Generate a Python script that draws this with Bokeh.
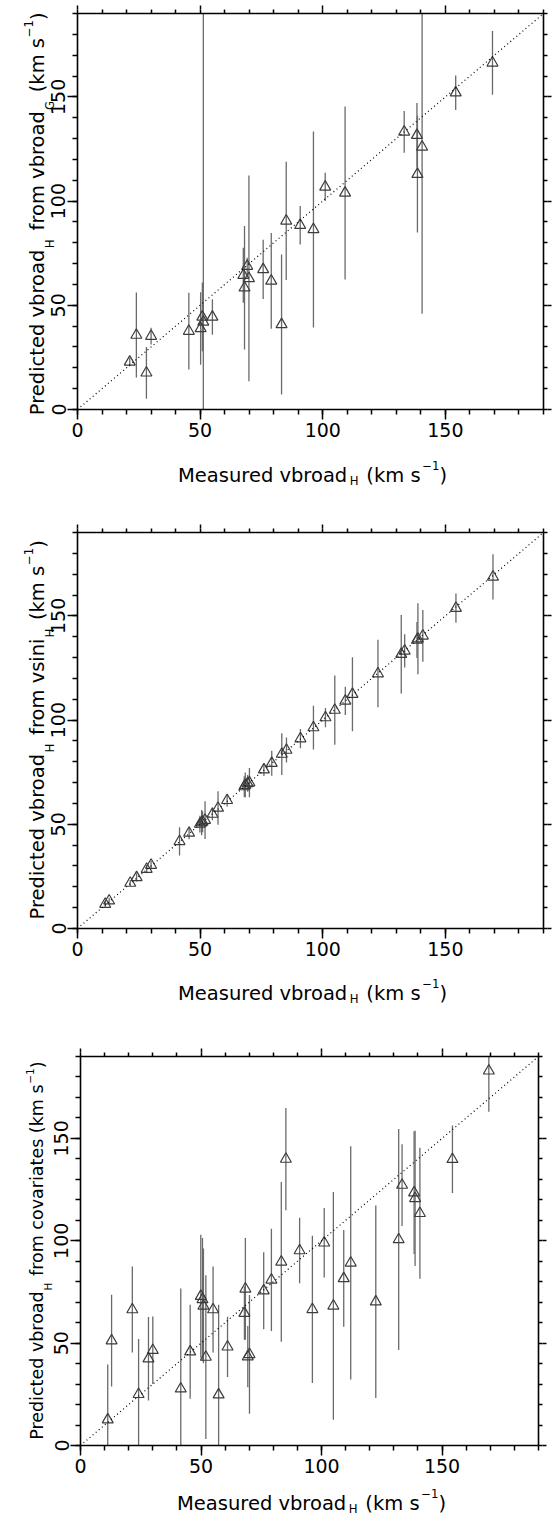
import math
from bokeh.plotting import figure
from bokeh.models import Range1d, LinearAxis, Label, FixedTicker, Slope, ColumnDataSource
from bokeh.layouts import column, row
from bokeh.embed import file_html
from bokeh.resources import INLINE

# ---------------- data ----------------
# Panel 1: predicted from vbroad_G
meas_g = [21.3, 24.0, 28.1, 30.0, 45.4, 50.2, 50.9, 51.3, 55.0, 68.1, 67.6, 69.2, 69.9, 75.7,
          79.0, 83.2, 85.1, 90.8, 96.2, 101.0, 109.1, 133.2, 138.4, 138.6, 140.5, 154.2, 169.2]
pred_g = [22.8, 35.7, 17.6, 35.2, 37.6, 38.9, 44.4, 42.0, 44.4, 58.4, 64.4, 68.8, 62.9, 67.2,
          61.7, 40.8, 90.5, 88.4, 86.4, 106.8, 103.9, 133.2, 131.6, 112.9, 126.0, 152.0, 166.3]
err_g = [2, 20.4, 12.4, 4, 18.4, 17.4, 16.5, 160, 8.5, 29.6, 13.2, 4, 49.4, 14.2,
         23, 33.6, 28.4, 9.2, 47, 6.8, 41.5, 10, 15.5, 28, 80, 8.3, 15.3]

# Panels 2 and 3 share the measured values
meas_h = [11.3, 12.9, 21.5, 24.1, 28.2, 30.0, 41.6, 45.5, 49.9, 50.6, 51.0, 52.0, 55.0, 57.3,
          61.0, 68.0, 68.4, 69.4, 70.1, 76.0, 79.2, 83.3, 85.2, 90.9, 96.2, 101.1, 104.9, 109.2,
          112.1, 122.5, 132.0, 133.4, 138.4, 138.8, 140.8, 154.3, 169.4]
# Panel 2: predicted from vsini_H
pred_v = [11.7, 13.3, 21.8, 24.5, 28.5, 30.4, 41.8, 45.8, 50.1, 50.8, 51.2, 52.0, 54.9, 57.8,
          61.5, 68.1, 68.8, 69.6, 70.0, 76.2, 79.3, 83.7, 85.6, 91.1, 96.4, 101.2, 104.8, 109.2,
          112.4, 122.3, 131.6, 133.2, 138.4, 139.0, 140.4, 153.7, 168.7]
err_v = [1.5, 1.5, 1.5, 2, 2, 2, 6.8, 3, 4, 6, 5, 9, 3, 8,
         3, 5, 6, 4, 7, 3, 6, 10, 6, 4.6, 10.5, 4.6, 16.6, 6.8,
         17.7, 16.2, 18.8, 8, 8.6, 17, 12.4, 7, 10.9]
# Panel 3: predicted from covariates
pred_c = [12.6, 51.2, 66.4, 25.0, 42.4, 46.5, 27.7, 45.8, 72.9, 71.3, 68.2, 43.2, 66.4, 24.8,
          48.2, 64.6, 76.5, 43.4, 44.5, 75.6, 80.9, 89.7, 139.9, 95.2, 66.5, 99.0, 68.2, 81.6,
          89.2, 70.2, 100.6, 127.2, 123.5, 120.7, 113.4, 139.8, 183.0]
err_c = [27, 22.4, 21, 27, 20.4, 16.5, 49, 23, 30, 30, 28, 40, 21, 44,
         14.7, 13, 24.8, 15, 29, 18.8, 25, 39, 25, 16, 36, 17, 55.6, 23.6,
         57, 47, 54, 20, 30, 33, 32, 16.5, 20]

AXIS_MIN, AXIS_MAX = 0, 190
MAJOR_TICKS = [0, 50, 100, 150]
MINOR_TICKS = list(range(0, 191, 10))

X_TITLE = [("Measured vbroad", "n"), ("H", "sub"), (" (km s", "n"), ("\u22121", "sup"), (")", "n")]
Y_TITLES = [
    [("Predicted vbroad", "n"), ("H", "sub"), (" from vbroad", "n"), ("G", "sub"),
     (" (km s", "n"), ("\u22121", "sup"), (")", "n")],
    [("Predicted vbroad", "n"), ("H", "sub"), (" from vsini", "n"), ("H", "sub"),
     (" (km s", "n"), ("\u22121", "sup"), (")", "n")],
    [("Predicted vbroad", "n"), ("H", "sub"), (" from covariates (km s", "n"),
     ("\u22121", "sup"), (")", "n")],
]

# ---------------- styling ----------------
FONT = "DejaVu Sans"
TICK_FS = 19
TITLE_FS = 19.5
ASC, DESC = 0.928, 0.236          # DejaVu Sans font box (em)
EM = {" ": 0.40, "(": 0.390, ")": 0.390, "-": 0.361, "\u2212": 0.838,
      "G": 0.776, "H": 0.752, "M": 0.863, "P": 0.603,
      "a": 0.613, "b": 0.635, "c": 0.550, "d": 0.635, "e": 0.615, "f": 0.352, "h": 0.634,
      "i": 0.278, "k": 0.579, "l": 0.278, "m": 0.974, "n": 0.634, "o": 0.612, "r": 0.411,
      "s": 0.521, "t": 0.392, "u": 0.634, "v": 0.592}
for d in "0123456789":
    EM[d] = 0.636

FIG_W = 558


def tw(s, fs, space=0.40):
    return sum((space if c == " " else EM.get(c, 0.6)) for c in s) * fs


def piece_layout(pieces, fs_main, space):
    """Return (text, kind, font size, centre offset, left offset) from the title centre."""
    items = []
    total = 0.0
    for t, k in pieces:
        fs = fs_main if k == "n" else fs_main * 0.6
        w = tw(t, fs, space)
        items.append((t, k, fs, w))
        total += w
    out = []
    pos = -total / 2.0
    for t, k, fs, w in items:
        txt = t.strip()
        lead = len(t) - len(t.lstrip(" "))
        lead_w = tw(" " * lead, fs_main, space)
        wt = tw(txt, fs, space)
        out.append((txt, k, fs, pos + lead_w + wt / 2.0, pos + lead_w))
        pos += w
    return out


def x_title(fig, cx, base):
    for txt, k, fs, c, left in piece_layout(X_TITLE, TITLE_FS, 0.40):
        off = 0.0 if k == "n" else (-0.26 * TITLE_FS if k == "sub" else 0.50 * TITLE_FS)
        fig.add_layout(Label(x=cx + left, y=base + off, x_units="screen", y_units="screen",
                             text=txt, text_align="left", text_baseline="alphabetic",
                             text_font=FONT, text_font_size=f"{fs:.1f}px", text_color="black"))


def y_title_axes(p, pieces, fs_main, space, frame_left, x_base, centre_shift_px, fh):
    """Vertical title built from label-only axes stacked on the left of the frame."""
    px2d = (AXIS_MAX - AXIS_MIN) / fh
    centre = (AXIS_MAX + AXIS_MIN) / 2.0 + centre_shift_px * px2d
    groups = {"sub": ([], {}), "n": ([], {}), "sup": ([], {})}
    for txt, k, fs, c, left in piece_layout(pieces, fs_main, space):
        v = round(centre + c * px2d, 3)
        groups[k][0].append(v)
        groups[k][1][v] = txt
    fs_small = fs_main * 0.6
    # outer edge of the labelled y axis: tick 10 + standoff 2 + label box
    edge = frame_left - (10 + 2 + (ASC + DESC) * TICK_FS)
    for kind, fs, target in (("sub", fs_small, x_base + 0.30 * fs_main),
                             ("n", fs_main, x_base),
                             ("sup", fs_small, x_base - 0.55 * fs_main)):
        standoff = int(round(edge - DESC * fs - target))
        ticks, labels = groups[kind]
        ax = LinearAxis(ticker=FixedTicker(ticks=ticks, minor_ticks=[]),
                        major_label_overrides=labels)
        ax.axis_line_color = None
        ax.major_tick_line_color = None
        ax.minor_tick_line_color = None
        ax.major_tick_in = 0
        ax.major_tick_out = 0
        ax.minor_tick_in = 0
        ax.minor_tick_out = 0
        ax.axis_label = None
        ax.major_label_orientation = "vertical"
        ax.major_label_standoff = standoff
        ax.major_label_text_font = FONT
        ax.major_label_text_font_size = f"{fs:.2f}px"
        ax.major_label_text_color = "black"
        p.add_layout(ax, "left")
        edge -= (ASC + DESC) * fs + standoff


def blank_fig(width, height):
    return figure(width=width, height=height, x_range=Range1d(0, 1), y_range=Range1d(0, 1),
                  x_axis_type=None, y_axis_type=None, output_backend="svg",
                  toolbar_location=None, min_border=0, min_border_left=0, min_border_right=0,
                  min_border_top=0, min_border_bottom=0, outline_line_color=None,
                  background_fill_color="white", border_fill_color="white")


def style_labelled(ax, standoff):
    ax.ticker = FixedTicker(ticks=MAJOR_TICKS, minor_ticks=MINOR_TICKS)
    ax.axis_line_color = "black"
    ax.axis_line_width = 1.6
    ax.major_tick_line_color = "black"
    ax.major_tick_line_width = 1.5
    ax.major_tick_in = 0
    ax.major_tick_out = 10
    ax.minor_tick_line_color = "black"
    ax.minor_tick_line_width = 1.5
    ax.minor_tick_in = 0
    ax.minor_tick_out = 5
    ax.axis_label = None
    ax.major_label_text_font = FONT
    ax.major_label_text_font_size = f"{TICK_FS}px"
    ax.major_label_text_color = "black"
    ax.major_label_standoff = standoff


def tick_only_axis(minor, out, line):
    ax = LinearAxis(ticker=FixedTicker(ticks=[], minor_ticks=minor))
    ax.axis_line_color = "black" if line else None
    ax.axis_line_width = 1.6
    ax.major_tick_in = 0
    ax.major_tick_out = out
    ax.minor_tick_line_color = "black"
    ax.minor_tick_line_width = 1.5
    ax.minor_tick_in = 0
    ax.minor_tick_out = out
    ax.major_label_standoff = 0
    ax.axis_label = None
    return ax


def make_panel(xv, yv, ev, ytitle, main_h, bl, br, bt, bb, xt_h, xt_base,
               yt_fs, yt_space, yt_xbase, yt_shift):
    p = figure(width=FIG_W, height=main_h, x_range=Range1d(AXIS_MIN, AXIS_MAX),
               y_range=Range1d(AXIS_MIN, AXIS_MAX), output_backend="svg",
               toolbar_location=None, min_border_left=bl, min_border_right=br,
               min_border_top=bt, min_border_bottom=bb, outline_line_color=None,
               background_fill_color="white", border_fill_color="white")
    p.grid.visible = False
    style_labelled(p.below[0], 3)
    style_labelled(p.left[0], 2)
    p.left[0].major_label_orientation = "vertical"
    # top and right: all ticks 4px, majors extended by a second, line-less axis
    p.add_layout(tick_only_axis(MINOR_TICKS, 4, True), "above")
    p.add_layout(tick_only_axis(MAJOR_TICKS, 4, False), "above")
    p.add_layout(tick_only_axis(MINOR_TICKS, 4, True), "right")
    p.add_layout(tick_only_axis(MAJOR_TICKS, 4, False), "right")

    lo = [y - e for y, e in zip(yv, ev)]
    hi = [y + e for y, e in zip(yv, ev)]
    src = ColumnDataSource(dict(x=xv, y=yv, lo=lo, hi=hi))
    p.add_layout(Slope(gradient=1, y_intercept=0, line_color="black", line_width=1.2,
                       line_dash="1 3"))
    p.segment(x0="x", y0="lo", x1="x", y1="hi", source=src, line_color="#6a6a6a",
              line_width=1.3)
    p.scatter(x="x", y="y", source=src, marker="triangle", size=11, fill_color=None,
              line_color="#3c3c3c", line_width=1.2)

    fw = FIG_W - bl - br
    fh = main_h - bt - bb
    y_title_axes(p, ytitle, yt_fs, yt_space, bl, yt_xbase, yt_shift, fh)

    xfig = blank_fig(FIG_W, xt_h)
    x_title(xfig, bl + fw / 2.0 + 2, xt_base)
    # each figure in its own row so the column does not align their frames
    return [row(p), row(xfig)]


parts = []
parts += make_panel(meas_g, pred_g, err_g, Y_TITLES[0], 447, 77, 15, 13, 38, 77, 49,
                    19.5, 0.40, 43, -3)
parts += make_panel(meas_h, pred_v, err_v, Y_TITLES[1], 442, 77, 15, 8, 38, 82, 55,
                    19.5, 0.40, 43, 0)
parts += make_panel(meas_h, pred_c, err_c, Y_TITLES[2], 433, 80, 20, 8, 36, 35, 13,
                    17.5, 0.34, 41, 0)

layout = column(*parts)
open("out.html", "w").write(file_html(layout, INLINE, "vbroad"))
